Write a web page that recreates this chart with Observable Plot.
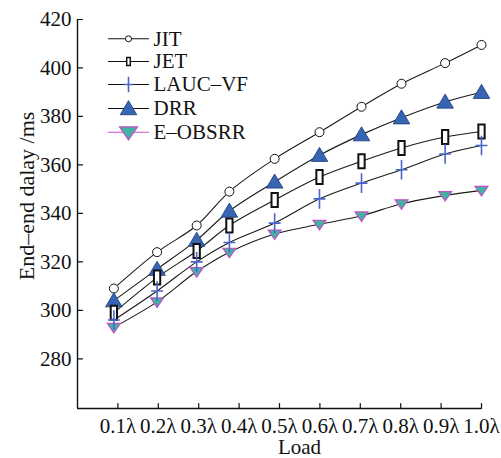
<!DOCTYPE html>
<html><head><meta charset="utf-8">
<script src="https://cdn.jsdelivr.net/npm/d3@7"></script>
<script src="https://cdn.jsdelivr.net/npm/@observablehq/plot@0.6"></script>
<style>
html,body{margin:0;padding:0;background:#fff;}
#chart svg{display:block;}
</style></head><body><div id="chart"></div>
<script>
// ---- data ----
const loadTickValues = [0.1, 0.2, 0.3, 0.4, 0.5, 0.6, 0.7, 0.8, 0.9, 1.0];
const loadTickLabels = ["0.1λ", "0.2λ", "0.3λ", "0.4λ", "0.5λ", "0.6λ", "0.7λ", "0.8λ", "0.9λ", "1.0λ"];
// marker positions along the load axis
const loadPositions = [0.09, 0.197, 0.295, 0.376, 0.488, 0.599, 0.703, 0.802, 0.91, 1.0];
const delayTicks = [280, 300, 320, 340, 360, 380, 400, 420];
const delayMin = 259.5, delayMax = 420;
const seriesNames = ["JIT", "JET", "LAUC–VF", "DRR", "E–OBSRR"];
const jitDelay    = [309, 324, 335, 349, 362.5, 373.5, 384, 393.5, 402, 409.5];
const jetDelay    = [299, 313.5, 324.5, 335, 345.5, 355, 361.5, 367, 371.5, 373.8];
const laucvfDelay = [296, 308, 320, 328, 336, 346, 352.5, 358, 364.5, 368];
const drrDelay    = [304, 317, 329, 341, 353, 364, 372.5, 379.5, 386, 390];
const eobsrrDelay = [293, 303.5, 316, 324, 331.5, 335.5, 339, 344, 347.4, 349.5];

const seriesValues = [jitDelay, jetDelay, laucvfDelay, drrDelay, eobsrrDelay];
const rows = [];
seriesNames.forEach((s, k) => seriesValues[k].forEach((v, i) => rows.push({series: s, load: loadPositions[i], delay: v})));

// ---- symbols ----
const rad = size => Math.sqrt(size / Math.PI);
const rectSym = {draw(c, size){ const r = rad(size); const w = 0.45*r; c.rect(-w, -r, 2*w, 2*r); }};
const plusSym = {draw(c, size){ const r = rad(size); c.moveTo(-0.85*r, 0); c.lineTo(0.85*r, 0); c.moveTo(0, -1.4*r); c.lineTo(0, 1.4*r); }};
const triUpSym = {draw(c, size){ const r = rad(size); c.moveTo(0, -0.95*r); c.lineTo(r, 0.75*r); c.lineTo(-r, 0.75*r); c.closePath(); }};
const triDownSym = {draw(c, size){ const r = rad(size); c.moveTo(-r, -0.6*r); c.lineTo(r, -0.6*r); c.lineTo(0, 0.85*r); c.closePath(); }};
const tickShape = {draw(c, l){ c.moveTo(0, 0); c.lineTo(0, -l); }};

const styles = {
  "JIT":     {symbol: "circle", r: 4.5, lr: 3, fill: "#fff", stroke: "#111", strokeWidth: 1, line: "#111"},
  "JET":     {symbol: rectSym, r: 7, lr: 4, fill: "#fff", stroke: "#111", strokeWidth: 2, lsw: 1.5, line: "#111"},
  "LAUC–VF": {symbol: plusSym, r: 7, lr: 5.5, fill: "none", stroke: "#4a66cc", strokeWidth: 1.6, line: "#111"},
  "DRR":     {symbol: triUpSym, r: 8.3, lr: 8.3, fill: "#3565b3", stroke: "#1d3a75", strokeWidth: 0.8, line: "#111"},
  "E–OBSRR": {symbol: triDownSym, r: 6.5, lr: 9, fill: "#3db5a0", stroke: "#c24fc6", strokeWidth: 1.2, line: "#c24fc6"}
};
const drawOrder = ["JIT", "DRR", "E–OBSRR", "JET", "LAUC–VF"];
const legendDy = [19.3, 42, 65, 89, 112.7];

const marks = [];
// axis lines
marks.push(Plot.ruleX([0], {stroke: "#111", strokeWidth: 1.4}));
marks.push(Plot.ruleY([delayMin], {stroke: "#111", strokeWidth: 1.4}));
// inward ticks
marks.push(Plot.vector(loadTickValues, {x: d => d, frameAnchor: "bottom", length: 5, anchor: "start", shape: tickShape, stroke: "#111", strokeWidth: 1.2}));
marks.push(Plot.vector(delayTicks, {y: d => d, frameAnchor: "left", length: 5, rotate: 90, anchor: "start", shape: tickShape, stroke: "#111", strokeWidth: 1.2}));
// tick labels
marks.push(Plot.axisX({ticks: loadTickValues, tickSize: 0, tickPadding: 10, label: null, fontSize: 21, tickFormat: d => loadTickLabels[loadTickValues.indexOf(d)]}));
marks.push(Plot.axisY({ticks: delayTicks, tickSize: 0, tickPadding: 6, label: null, fontSize: 21}));
// lines
marks.push(Plot.line(rows, {x: "load", y: "delay", z: "series", curve: "catmull-rom", stroke: "#1a1a1a", strokeWidth: 1.1}));
// markers
for (const s of drawOrder) {
  const st = styles[s];
  marks.push(Plot.dot(rows.filter(d => d.series === s), {x: "load", y: "delay", symbol: st.symbol, r: st.r, fill: st.fill, stroke: st.stroke, strokeWidth: st.strokeWidth}));
}
// legend
seriesNames.forEach((s, i) => {
  const st = styles[s];
  marks.push(Plot.vector([s], {frameAnchor: "top-left", dx: 31, dy: legendDy[i], length: 40, rotate: 90, anchor: "start", shape: tickShape, stroke: st.line, strokeWidth: 1.1}));
  marks.push(Plot.dot([s], {frameAnchor: "top-left", dx: 51, dy: legendDy[i], symbol: st.symbol, r: st.lr, fill: st.fill, stroke: st.stroke, strokeWidth: st.lsw ?? st.strokeWidth}));
  marks.push(Plot.text([s], {frameAnchor: "top-left", dx: 76, dy: legendDy[i], text: d => d, textAnchor: "start", lineAnchor: "middle", fontSize: 21}));
});
// axis titles
marks.push(Plot.text(["End–end dalay /ms"], {frameAnchor: "left", dx: -51, dy: -18, rotate: -90, text: d => d, fontSize: 22, textAnchor: "middle", lineAnchor: "middle"}));
marks.push(Plot.text(["Load"], {frameAnchor: "bottom", dx: 20, dy: 45, text: d => d, fontSize: 21, textAnchor: "middle", lineAnchor: "bottom"}));

const chart = Plot.plot({
  width: 501, height: 458,
  marginLeft: 77, marginRight: 20, marginTop: 19, marginBottom: 50,
  x: {domain: [0, 1]},
  y: {domain: [delayMin, delayMax]},
  style: {fontFamily: "'Liberation Serif', 'Times New Roman', serif", fontSize: "21px", color: "#111", background: "#fff"},
  marks
});
document.getElementById("chart").appendChild(chart);
</script>
</body></html>
